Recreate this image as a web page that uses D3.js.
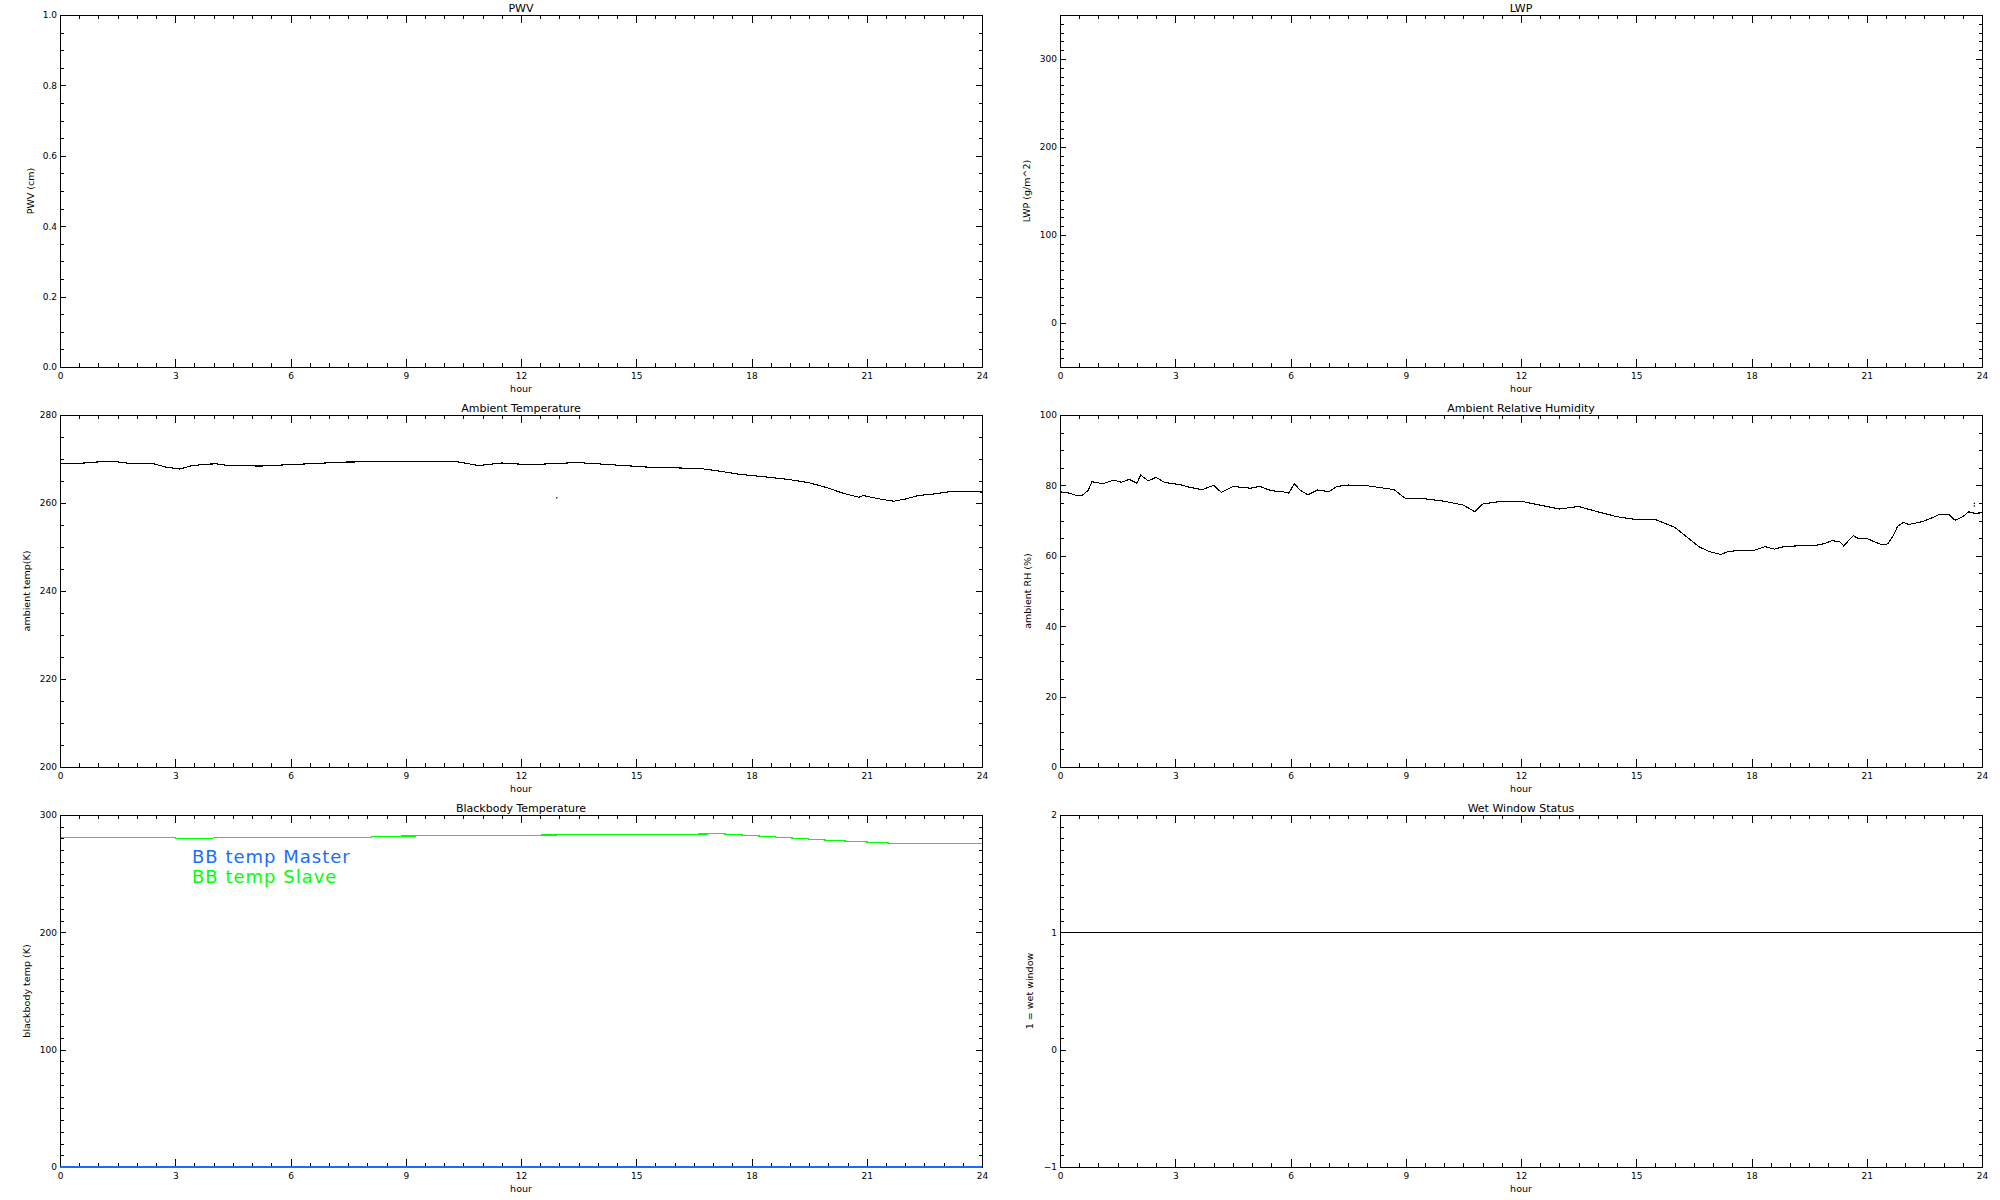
<!DOCTYPE html>
<meta charset="utf-8">
<style>
    body { margin: 0; background: #fff; }
    svg { display: block; background: #fff; }
    text { font-family: "DejaVu Sans", sans-serif; fill: #000; }
    .frame { fill: none; stroke: #000; stroke-width: 1px; shape-rendering: crispEdges; }
    .tick line { stroke: #000; shape-rendering: crispEdges; }
    .tick text { font-size: 9px; }
    .title { font-size: 11px; text-anchor: middle; }
    .axlabel { font-size: 9.5px; text-anchor: middle; }
    .trace { fill: none; stroke-width: 1.1px; shape-rendering: crispEdges; }
    .legend { font-size: 18px; letter-spacing: 1px; }
</style>
<body>
<script src="https://cdn.jsdelivr.net/npm/d3@7"></script>
<script>
// hour axis (shared by every panel)
var hourTicks = [0, 3, 6, 9, 12, 15, 18, 21, 24];

// y tick labels
var pwvTicks = [0, 0.2, 0.4, 0.6, 0.8, 1.0];
var lwpTicks = [0, 100, 200, 300];
var tempTicks = [200, 220, 240, 260, 280];
var rhTicks = [0, 20, 40, 60, 80, 100];
var bbTicks = [0, 100, 200, 300];
var wetTicks = [-1, 0, 1, 2];

// ambient temperature (K)
var tempHour = [0, 0.66, 1.08, 1.5, 1.9, 2.4, 2.74, 3.12, 3.4, 3.74, 4.07, 4.4, 5.23, 5.7, 6.7, 7.4,
    8.4, 9.4, 10.05, 10.4, 10.9, 11.5, 12.2, 13.0, 13.45, 14.0, 14.7, 15.4, 16.0, 16.7, 17.2, 17.7,
    18.4, 19.0, 19.5, 20.0, 20.35, 20.8, 20.9, 21.35, 21.7, 22.0, 22.35, 22.8, 23.25, 24];
var tempK = [268.9, 269.1, 269.4, 269.35, 268.9, 269.0, 268.2, 267.7, 268.4, 268.8, 268.9, 268.5, 268.4, 268.6, 269.0, 269.3,
    269.4, 269.5, 269.5, 269.3, 268.5, 269.1, 268.7, 269.0, 269.2, 268.9, 268.5, 268.1, 268.0, 267.8, 267.2, 266.5,
    265.9, 265.3, 264.6, 263.4, 262.3, 261.3, 261.7, 260.9, 260.4, 260.9, 261.7, 262.1, 262.7, 262.5];
var tempStrayHour = [12.93];
var tempStrayK = [261.2];

// ambient relative humidity (%)
var rhHour = [0, 0.25, 0.43, 0.6, 0.74, 0.83, 0.96, 1.1, 1.4, 1.6, 1.8, 2.0, 2.1, 2.3, 2.5, 2.7, 2.85, 3.1,
    3.4, 3.7, 4.0, 4.2, 4.5, 4.95, 5.2, 5.5, 5.8, 5.95, 6.1, 6.25, 6.45, 6.7, 7.0, 7.2, 7.5,
    8.0, 8.7, 9.0, 9.5, 10.0, 10.5, 10.8, 11.0, 11.5, 12.0, 12.5, 13.0, 13.5, 14.0, 14.5, 15.0, 15.5, 16.0,
    16.3, 16.63, 16.9, 17.2, 17.4, 17.65, 18.05, 18.35, 18.6, 18.8, 19.15, 19.5, 19.75, 19.9, 20.1, 20.3,
    20.4, 20.5, 20.65, 20.8, 21.0, 21.2, 21.4, 21.55, 21.7, 21.8, 21.95, 22.1, 22.45, 22.7, 22.9, 23.15,
    23.3, 23.5, 23.65, 23.8, 24];
var rhPct = [78.2, 77.8, 77.1, 77.3, 78.7, 81.0, 80.9, 80.4, 81.5, 80.9, 81.7, 80.6, 82.9, 81.3, 82.3, 81.0, 80.6, 80.3,
    79.4, 78.8, 80.0, 78.0, 79.7, 79.2, 79.7, 78.5, 78.2, 77.8, 80.4, 78.7, 77.3, 78.7, 78.2, 79.7, 80.1,
    79.9, 78.8, 76.2, 76.2, 75.5, 74.4, 72.5, 74.7, 75.5, 75.5, 74.4, 73.3, 74.0, 72.5, 71.1, 70.3, 70.3, 68.1,
    65.5, 62.6, 61.2, 60.4, 61.2, 61.5, 61.5, 62.6, 61.9, 62.5, 62.8, 62.8, 63.1, 63.5, 64.3, 64.0,
    62.8, 64.0, 65.7, 64.8, 64.9, 64.0, 63.1, 63.4, 65.9, 68.3, 69.5, 68.9, 69.7, 70.8, 71.8, 71.6,
    70.1, 71.1, 72.5, 72.1, 72.2];
var rhStrayHour = [23.8, 23.8];
var rhStrayPct = [74.9, 74.2];

// blackbody temperatures (K)
var bbHour = [0, 2.99, 3.0, 3.98, 4.0, 8.1, 8.15, 10, 12, 13, 15, 16.8, 17.2, 18, 19, 20, 21, 21.7, 24];
var bbSlaveK = [281, 281, 280.2, 280.2, 281, 281.2, 281.9, 282.3, 282.8, 283, 283.4, 283.8, 284, 282.5, 280.5, 278.5, 277, 275.9, 275.9];
var bbMasterHour = [0, 24];
var bbMasterK = [0, 0];

// wet window flag
var wetHour = [0, 24];
var wetFlag = [1, 1];

var W = 2000, H = 1200;
var svg = d3.select("body").append("svg").attr("width", W).attr("height", H);

var colLeft = [60, 1060], plotW = 922;
var rowTop = [15, 415, 815], plotH = 352;

function zip(xs, ys) { return xs.map(function(x, i) { return [x, ys[i]]; }); }

var panels = [
    {row: 0, col: 0, title: "PWV", ylab: "PWV (cm)", dom: [0, 1], ticks: pwvTicks, minor: 0.05, fmt: d3.format(".1f"), yoff: 29},
    {row: 0, col: 1, title: "LWP", ylab: "LWP (g/m^2)", dom: [-50, 350], ticks: lwpTicks, minor: 10, fmt: d3.format("d"), yoff: 33},
    {row: 1, col: 0, title: "Ambient Temperature", ylab: "ambient temp(K)", dom: [200, 280], ticks: tempTicks, minor: 5, fmt: d3.format("d"), yoff: 33,
        series: [{d: zip(tempHour, tempK), c: "#000"}], dots: zip(tempStrayHour, tempStrayK)},
    {row: 1, col: 1, title: "Ambient Relative Humidity", ylab: "ambient RH (%)", dom: [0, 100], ticks: rhTicks, minor: 5, fmt: d3.format("d"), yoff: 32,
        series: [{d: zip(rhHour, rhPct), c: "#000"}], dots: zip(rhStrayHour, rhStrayPct)},
    {row: 2, col: 0, title: "Blackbody Temperature", ylab: "blackbody temp (K)", dom: [0, 300], ticks: bbTicks, minor: 10, fmt: d3.format("d"), yoff: 33,
        series: [{d: zip(bbHour, bbSlaveK), c: "#00ff00"}], over: [{d: zip(bbMasterHour, bbMasterK), c: "#1a6cff"}],
        legend: [{t: "BB temp Master", c: "#1a6cff"}, {t: "BB temp Slave", c: "#00ff00"}]},
    {row: 2, col: 1, title: "Wet Window Status", ylab: "1 = wet window", dom: [-1, 2], ticks: wetTicks, minor: 0.1, fmt: d3.format("d"), yoff: 30,
        series: [{d: zip(wetHour, wetFlag), c: "#000"}]}
];

function minorTicks(dom, step) {
    var n = Math.round((dom[1] - dom[0]) / step);
    return d3.range(n + 1).map(function(i) { return +(dom[0] + i * step).toFixed(6); });
}

panels.forEach(function(p) {
    var x0 = colLeft[p.col], y0 = rowTop[p.row];
    var g = svg.append("g").attr("transform", "translate(" + x0 + "," + y0 + ")");
    var x = d3.scaleLinear().domain([0, 24]).range([0, plotW]);
    var y = d3.scaleLinear().domain(p.dom).range([plotH, 0]);

    var line = d3.line().x(function(d) { return x(d[0]); }).y(function(d) { return y(d[1]); });

    (p.series || []).forEach(function(s) {
        g.append("path").attr("class", "trace").attr("d", line(s.d)).style("stroke", s.c);
    });
    (p.dots || []).forEach(function(d) {
        g.append("rect").attr("x", x(d[0]) - 0.6).attr("y", y(d[1]) - 0.6)
            .attr("width", 1.3).attr("height", 1.3).attr("fill", "#000");
    });

    // x axes: bottom with labels, top without
    var xMinor = minorTicks([0, 24], 0.5);
    g.append("g").attr("transform", "translate(0," + plotH + ")")
        .call(d3.axisBottom(x).tickValues(xMinor).tickSize(-4).tickFormat(""));
    g.append("g").attr("transform", "translate(0," + plotH + ")")
        .call(d3.axisBottom(x).tickValues(hourTicks).tickSize(-8).tickPadding(6).tickFormat(d3.format("d")));
    g.append("g").call(d3.axisTop(x).tickValues(xMinor).tickSize(-4).tickFormat(""));
    g.append("g").call(d3.axisTop(x).tickValues(hourTicks).tickSize(-8).tickFormat(""));

    // y axes: left with labels, right without
    var yMinor = minorTicks(p.dom, p.minor);
    g.append("g").call(d3.axisLeft(y).tickValues(yMinor).tickSize(-3.5).tickFormat(""));
    g.append("g").call(d3.axisLeft(y).tickValues(p.ticks).tickSize(-6).tickPadding(3).tickFormat(p.fmt));
    g.append("g").attr("transform", "translate(" + plotW + ",0)")
        .call(d3.axisRight(y).tickValues(yMinor).tickSize(-3.5).tickFormat(""));
    g.append("g").attr("transform", "translate(" + plotW + ",0)")
        .call(d3.axisRight(y).tickValues(p.ticks).tickSize(-6).tickFormat(""));

    g.selectAll(".domain").remove();
    g.selectAll(".tick text").attr("font-family", null).attr("font-size", null);

    g.append("rect").attr("class", "frame").attr("x", 0).attr("y", 0).attr("width", plotW).attr("height", plotH);

    (p.over || []).forEach(function(s) {
        g.append("path").attr("class", "trace").attr("d", line(s.d)).style("stroke", s.c).style("stroke-width", "1.5px");
    });

    g.append("text").attr("class", "title").attr("x", plotW / 2).attr("y", -3.5).text(p.title);
    g.append("text").attr("class", "axlabel").attr("x", plotW / 2).attr("y", plotH + 25).text("hour");
    g.append("text").attr("class", "axlabel")
        .attr("transform", "translate(" + (-p.yoff + 3) + "," + (plotH / 2) + ") rotate(-90)")
        .text(p.ylab);

    (p.legend || []).forEach(function(l, i) {
        g.append("text").attr("class", "legend").attr("x", 132).attr("y", 48 + i * 19.5)
            .style("fill", l.c).text(l.t);
    });
});
</script>
</body>
</html>
